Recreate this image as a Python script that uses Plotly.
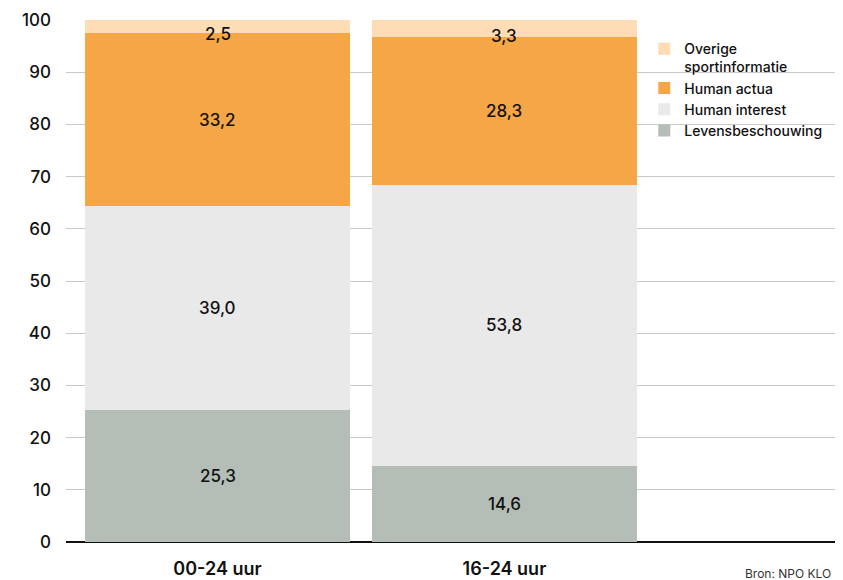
import plotly.graph_objects as go

categories = ["00-24 uur", "16-24 uur"]
series_names = ["Levensbeschouwing", "Human interest", "Human actua", "Overige<br>sportinformatie"]
levensbeschouwing = [25.3, 14.6]
human_interest = [39.0, 53.8]
human_actua = [33.2, 28.3]
overige = [2.5, 3.3]
y_ticks = [0, 10, 20, 30, 40, 50, 60, 70, 80, 90, 100]
source_text = "Bron: NPO KLO"

series_values = [levensbeschouwing, human_interest, human_actua, overige]
colors = ["#b4beb6", "#e8e9e8", "#f5a646", "#fddcb6"]

FONT = "Inter"

fig = go.Figure()
n = len(series_names)
for i, (name, vals, col) in enumerate(zip(series_names, series_values, colors)):
    fig.add_trace(go.Bar(
        x=categories, y=vals, name=name, marker=dict(color=col, line=dict(width=0)),
        legendgroup=f"g{i}", legendrank=(n - i) * 10, hoverinfo="skip",
    ))

# value labels centred on each segment
annotations = []
for ci, cat in enumerate(categories):
    base = 0.0
    for si, vals in enumerate(series_values):
        v = vals[ci]
        small = v < 5
        annotations.append(dict(
            x=cat, y=base + v / 2, xref="x", yref="y",
            text=f"{v:.1f}".replace(".", ","), showarrow=False,
            yshift=-7 if small else 0,
            font=dict(family=FONT, size=17, color="#111111", weight=500),
        ))
        base += v

annotations.append(dict(
    x=1, y=0, xref="paper", yref="paper", xanchor="right", yanchor="middle",
    xshift=-2, yshift=-31, text=source_text, showarrow=False,
    font=dict(family=FONT, size=12, color="#333333"),
))

# page body adds an 8px margin, so the figure is sized/offset to compensate
fig.update_layout(
    width=835, height=572,
    margin=dict(l=58, r=8, t=12, b=38, autoexpand=False),
    paper_bgcolor="white", plot_bgcolor="white",
    barmode="stack", bargap=0.077,
    font=dict(family=FONT, color="#111111"),
    showlegend=True,
    legend=dict(
        x=0.752, y=0.975, xanchor="left", yanchor="top",
        traceorder="grouped", tracegroupgap=0, valign="top",
        font=dict(family=FONT, size=14, color="#111111", weight=500),
        bgcolor="rgba(0,0,0,0)", itemwidth=30,
    ),
    annotations=annotations,
)
fig.update_xaxes(
    type="category", range=[-0.528, 2.152], showgrid=False, showline=False,
    ticks="", tickfont=dict(family=FONT, size=18, color="#111111", weight=600),
    ticklabelstandoff=14, fixedrange=True, automargin=False,
)
fig.update_yaxes(
    range=[0, 100], tickvals=y_ticks, showgrid=True, gridcolor="#c5ccc8", gridwidth=1.2,
    zeroline=True, zerolinecolor="#111111", zerolinewidth=1.5, showline=False,
    ticks="", tickfont=dict(family=FONT, size=17, color="#111111", weight=500),
    ticklabelstandoff=14, fixedrange=True, automargin=False,
)

fig.write_html("out.html")
